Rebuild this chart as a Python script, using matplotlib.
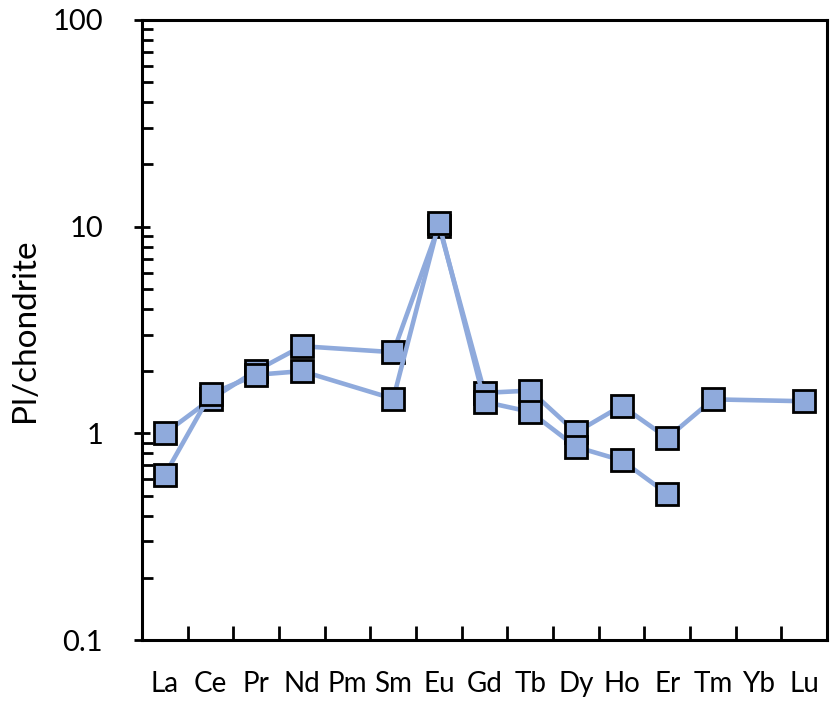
import numpy as np
import matplotlib
matplotlib.use("Agg")
from matplotlib import pyplot as plt
from matplotlib.ticker import LogLocator, NullFormatter, FixedLocator

# REE pattern, plagioclase normalised to chondrite
elements = ["La", "Ce", "Pr", "Nd", "Pm", "Sm", "Eu", "Gd", "Tb", "Dy", "Ho", "Er", "Tm", "Yb", "Lu"]
sample_a = [1.00, 1.46, 2.01, 2.64, np.nan, 2.47, 10.1, 1.57, 1.61, 1.01, 1.36, 0.95, 1.46, np.nan, 1.43]
sample_b = [0.63, 1.55, 1.92, 2.00, np.nan, 1.47, 10.4, 1.42, 1.27, 0.86, 0.74, 0.51, np.nan, np.nan, np.nan]
ytick_vals = [0.1, 1, 10, 100]
ytick_labels = ["0.1", "1", "10", "100"]

plt.rcParams['font.family'] = ['Lato', 'DejaVu Sans']

fig = plt.figure(figsize=(8.33, 7.09), dpi=100)
ax = fig.add_axes([0.1705, 0.0973, 0.8225, 0.8745])

x = np.arange(len(elements))
fill = "#8faadc"
for vals in [sample_a, sample_b]:
    v = np.array(vals, dtype=float)
    ok = ~np.isnan(v)
    # Excel-style: connect across the gaps
    ax.plot(x[ok], v[ok], color=fill, lw=3.3, marker="s", markersize=15.5,
            markerfacecolor=fill, markeredgecolor="black", markeredgewidth=2.0,
            zorder=3)

ax.set_yscale("log")
ax.set_ylim(0.1, 100)
ax.set_xlim(-0.5, len(elements) - 0.5)

ax.yaxis.set_major_locator(FixedLocator(ytick_vals))
ax.set_yticklabels(ytick_labels)
ax.yaxis.set_minor_locator(LogLocator(base=10, subs=np.arange(2, 10)))
ax.yaxis.set_minor_formatter(NullFormatter())

ax.set_xticks(x)
ax.set_xticklabels(elements)
ax.set_xticks(np.arange(0.5, len(elements) - 1), minor=True)

ax.tick_params(axis="x", which="major", length=0, pad=22, labelsize=20)
ax.tick_params(axis="x", which="minor", direction="in", length=10, width=2)
ax.tick_params(axis="y", which="major", direction="inout", length=12, width=2,
               pad=22, labelsize=21)
ax.tick_params(axis="y", which="minor", direction="in", length=8, width=2)

for s in ax.spines.values():
    s.set_linewidth(2.2)
    s.set_color("black")

ax.set_ylabel("Pl/chondrite", fontsize=24)
ax.yaxis.set_label_coords(-0.149, 0.5)

fig.savefig("out.png", dpi=100)
